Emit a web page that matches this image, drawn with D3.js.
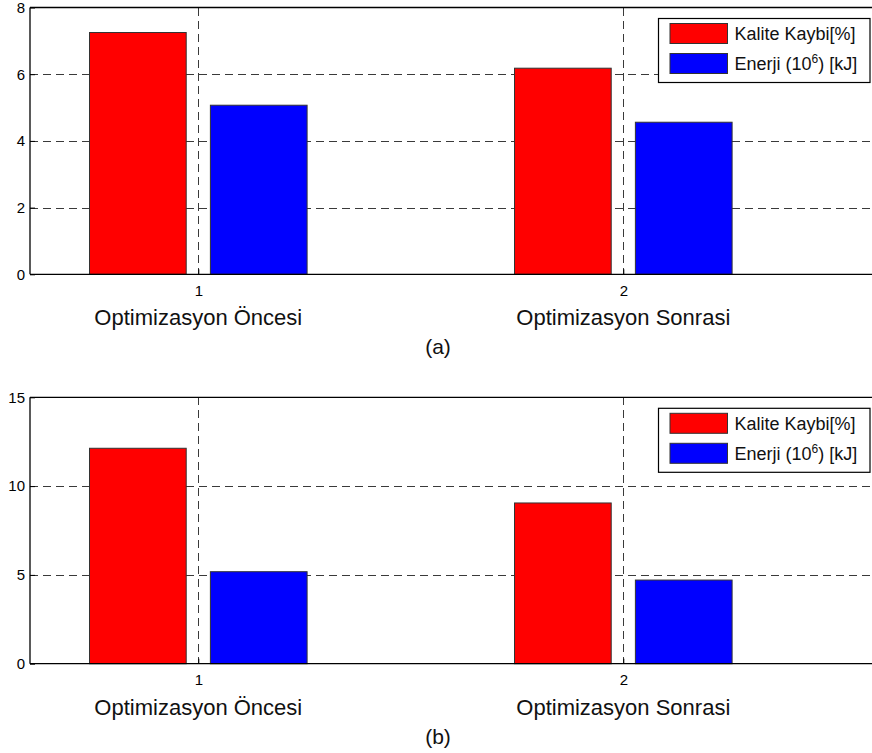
<!DOCTYPE html>
<html>
<head>
<meta charset="utf-8">
<script src="https://cdn.jsdelivr.net/npm/d3@7"></script>
<style>
  html, body { margin: 0; padding: 0; background: #fff; }
  svg { display: block; font-family: "Liberation Sans", Arial, Helvetica, sans-serif; }
</style>
</head>
<body>
<svg id="chart" width="872" height="753"></svg>
<script>
// Two grouped bar panels: quality loss vs. energy, before and after optimisation
const categories = ["Optimizasyon Öncesi", "Optimizasyon Sonrasi"];
const groupTicks = [1, 2];
const seriesNames = ["Kalite Kaybi[%]", "Enerji"];
const seriesColors = ["#ff0000", "#0000ff"];

// panel (a)
const kaliteA = [7.25, 6.18];
const enerjiA = [5.07, 4.56];
const yTicksA = [0, 2, 4, 6, 8];

// panel (b)
const kaliteB = [12.13, 9.05];
const enerjiB = [5.18, 4.71];
const yTicksB = [0, 5, 10, 15];

const panelLetters = ["(a)", "(b)"];

const svg = d3.select("#chart");

function drawPanel(cfg) {
  const { top, bottom, left, right, yMax, yTicks, values, letter } = cfg;
  const g = svg.append("g");

  const x = d3.scaleLinear().domain([1, 2]).range([198.3, 623.3]);
  const y = d3.scaleLinear().domain([0, yMax]).range([bottom, top]);
  // position of each series inside a group, in data units
  const inner = d3.scaleBand().domain(d3.range(values.length))
    .range([-0.256, 0.256]).paddingInner(0.2).paddingOuter(0);

  // white plot area
  g.append("rect").attr("x", left).attr("y", top)
    .attr("width", right - left).attr("height", bottom - top).attr("fill", "#fff");

  // dashed grid
  const grid = g.append("g").attr("stroke", "#3a3a3a").attr("stroke-width", 1)
    .attr("stroke-dasharray", "8,5").attr("shape-rendering", "crispEdges");
  yTicks.filter(t => t > 0 && t < yMax).forEach(t => {
    grid.append("line").attr("x1", left).attr("x2", right)
      .attr("y1", Math.round(y(t)) + 0.5).attr("y2", Math.round(y(t)) + 0.5);
  });
  groupTicks.forEach(t => {
    grid.append("line").attr("y1", top).attr("y2", bottom)
      .attr("x1", Math.round(x(t)) + 0.5).attr("x2", Math.round(x(t)) + 0.5);
  });

  // bars
  values.forEach((series, si) => {
    g.append("g").selectAll("rect").data(series).join("rect")
      .attr("x", (d, i) => x(groupTicks[i] + inner(si)))
      .attr("width", x(1 + inner.bandwidth()) - x(1))
      .attr("y", d => y(d))
      .attr("height", d => y(0) - y(d))
      .attr("fill", seriesColors[si])
      .attr("stroke", "#333").attr("stroke-width", 1);
  });

  // axes frame
  const frame = g.append("g").attr("stroke", "#000").attr("stroke-width", 1.3).attr("fill", "none");
  frame.append("line").attr("x1", left).attr("x2", right).attr("y1", top).attr("y2", top);
  frame.append("line").attr("x1", left).attr("x2", right).attr("y1", bottom).attr("y2", bottom);
  frame.append("line").attr("x1", left).attr("x2", left).attr("y1", top).attr("y2", bottom);

  // y axis, ticks pointing inward
  const yAxis = d3.axisLeft(y).tickValues(yTicks).tickSize(-5).tickPadding(5).tickFormat(d3.format("d"));
  const ya = g.append("g").attr("transform", `translate(${left},0)`).call(yAxis);
  ya.attr("font-size", null).attr("font-family", null);
  ya.select(".domain").remove();
  ya.selectAll("text").style("font-size", "15px").attr("fill", "#000");
  ya.selectAll("line").attr("stroke", "#000");

  // x axis, ticks pointing inward
  const xAxis = d3.axisBottom(x).tickValues(groupTicks).tickSize(-5).tickPadding(11).tickFormat(d3.format("d"));
  const xa = g.append("g").attr("transform", `translate(0,${bottom})`).call(xAxis);
  xa.attr("font-size", null).attr("font-family", null);
  xa.select(".domain").remove();
  xa.selectAll("text").style("font-size", "15px").attr("fill", "#000");
  xa.selectAll("line").attr("stroke", "#000");

  // category labels under the ticks
  g.append("g").selectAll("text").data(categories).join("text")
    .attr("x", (d, i) => x(groupTicks[i]))
    .attr("y", bottom + 51)
    .attr("text-anchor", "middle").style("font-size", "22px").attr("fill", "#111")
    .text(d => d);

  // panel letter
  g.append("text").attr("x", 438).attr("y", bottom + 80)
    .attr("text-anchor", "middle").style("font-size", "21px").attr("fill", "#111")
    .text(letter);

  // legend
  const lg = g.append("g").attr("transform", `translate(658.5,${top + 11})`);
  lg.append("rect").attr("width", 211.5).attr("height", 64)
    .attr("fill", "#fff").attr("stroke", "#000").attr("stroke-width", 1.2);
  seriesNames.forEach((name, i) => {
    const row = lg.append("g").attr("transform", `translate(0,${5 + i * 30})`);
    row.append("rect").attr("x", 11.5).attr("y", 0).attr("width", 57.5).attr("height", 20)
      .attr("fill", seriesColors[i]).attr("stroke", "#333").attr("stroke-width", 1);
    const t = row.append("text").attr("x", 76).attr("y", 16.5)
      .style("font-size", "18px").attr("fill", "#111");
    if (i === 0) {
      t.text(name);
    } else {
      t.append("tspan").text(name + " (10");
      t.append("tspan").style("font-size", "12px").attr("dy", -7).text("6");
      t.append("tspan").attr("dy", 7).text(") [kJ]");
    }
  });
}

drawPanel({ top: 7.5, bottom: 274.3, left: 30, right: 880, yMax: 8, yTicks: yTicksA,
  values: [kaliteA, enerjiA], letter: panelLetters[0] });
drawPanel({ top: 397.3, bottom: 663.7, left: 30, right: 880, yMax: 15, yTicks: yTicksB,
  values: [kaliteB, enerjiB], letter: panelLetters[1] });
</script>
</body>
</html>
